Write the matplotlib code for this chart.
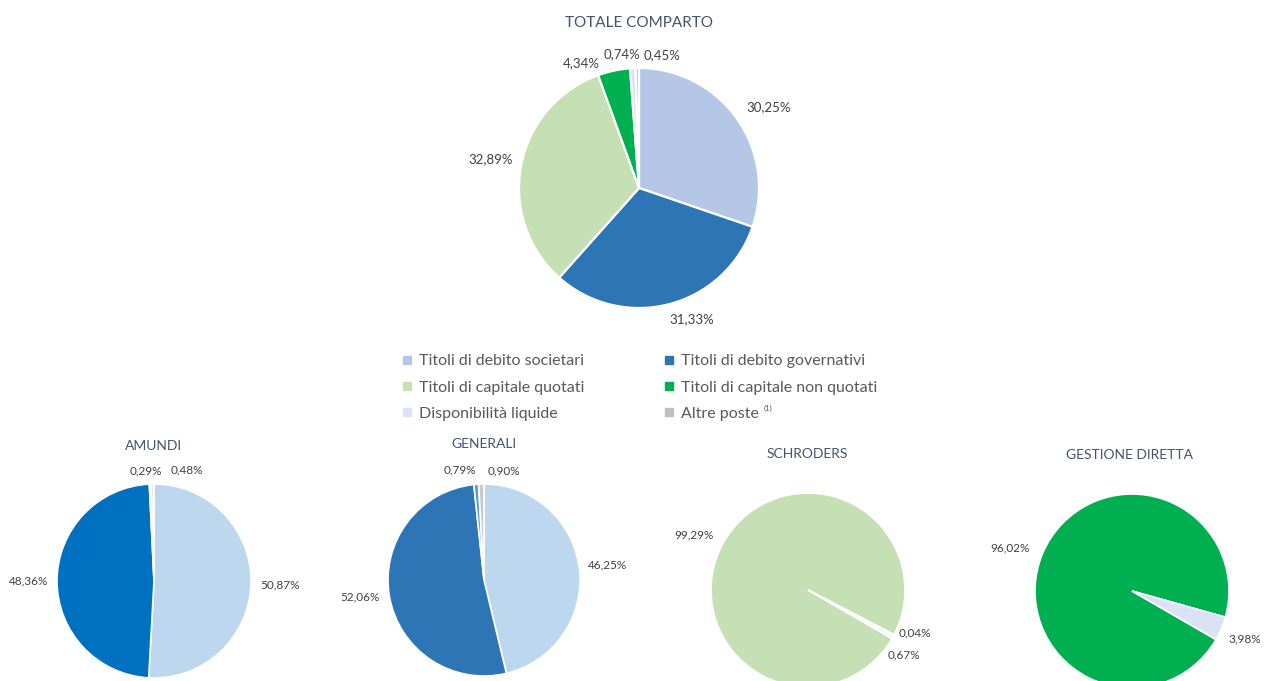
import matplotlib
matplotlib.use("Agg")
import matplotlib.pyplot as plt
from matplotlib.lines import Line2D
import numpy as np

# ---------------- data ----------------
categories = ["Titoli di debito societari", "Titoli di debito governativi",
              "Titoli di capitale quotati", "Titoli di capitale non quotati",
              "Disponibilità liquide", "Altre poste"]
footnote_mark = "(1)"
totale = [30.25, 31.33, 32.89, 4.34, 0.74, 0.45]
amundi = [50.87, 48.36, 0.29, 0.48]
generali = [46.25, 52.06, 0.79, 0.90]
schroders = [99.29, 0.04, 0.67]
gestione = [96.02, 3.98]
titles = ["TOTALE COMPARTO", "AMUNDI", "GENERALI", "SCHRODERS", "GESTIONE DIRETTA"]

# ---------------- style ----------------
W, H = 1264, 681
plt.rcParams['font.family'] = ['Lato', 'DejaVu Sans']
legend_colors = ["#B4C7E7", "#2E75B6", "#C5E0B4", "#00B050", "#DAE3F3", "#BFBFBF"]
TITLE_C = "#44546A"
LABEL_C = "#404040"

fig = plt.figure(figsize=(W / 100, H / 100), dpi=100)
fig.patch.set_facecolor("white")


def fmt(v):
    return f"{v:.2f}%".replace(".", ",")


def draw_pie(values, colors, cx, cy, R, start, offs, dists, lw, fs):
    ax = fig.add_axes([(cx - R) / W, 1 - (cy + R) / H, 2 * R / W, 2 * R / H])
    wedges, _ = ax.pie(values, colors=colors, startangle=start, counterclock=False,
                       radius=1, wedgeprops=dict(edgecolor="white", linewidth=lw))
    ax.set_xlim(-1, 1)
    ax.set_ylim(-1, 1)
    ax.set_aspect("equal")
    ax.axis("off")
    for w, v, o, d in zip(wedges, values, offs, dists):
        mid = np.deg2rad((w.theta1 + w.theta2) / 2 + o)
        ax.text(d * np.cos(mid), d * np.sin(mid), fmt(v), ha="center", va="center",
                fontsize=fs, color=LABEL_C, clip_on=False)
    return ax


# Totale comparto
draw_pie(totale, legend_colors, 639, 188, 120, 90,
         [-3.5, 7.3, 0, 12.8, 4.3, -10.8], [1.27, 1.18, 1.26, 1.15, 1.125, 1.12], 1.6, 9.5)
fig.text(639 / W, 1 - 23 / H, titles[0], ha="center", va="center", fontsize=11, color=TITLE_C)

# Amundi
draw_pie(amundi, ["#BDD7EE", "#0070C0", "#A9D18E", "#E2EAF6"], 154, 581, 97, 90,
         [0, 0, 1.8, -17.5], [1.30, 1.29, 1.14, 1.20], 1.2, 8.5)
fig.text(154 / W, 1 - 446 / H, titles[1], ha="center", va="center", fontsize=10, color=TITLE_C)

# Generali
draw_pie(generali, ["#BDD7EE", "#2E75B6", "#5B9BD5", "#C9C9C9"], 484, 580, 96, 90,
         [0, -2, 7.7, -12], [1.30, 1.30, 1.17, 1.16], 1.2, 8.5)
fig.text(484 / W, 1 - 444 / H, titles[2], ha="center", va="center", fontsize=10, color=TITLE_C)

# Schroders
draw_pie(schroders, ["#C5E0B4", "#BFBFBF", "#F4F7FB"], 808, 590, 97, -30,
         [2.9, 5.6, -5.2], [1.31, 1.19, 1.19], 1.2, 8.5)
fig.text(807 / W, 1 - 454 / H, titles[3], ha="center", va="center", fontsize=10, color=TITLE_C)

# Gestione diretta
draw_pie(gestione, ["#00B050", "#DAE3F3"], 1132, 591, 97, -30,
         [3.4, 0], [1.33, 1.26], 1.2, 8.5)
fig.text(1130 / W, 1 - 455 / H, titles[4], ha="center", va="center", fontsize=10, color=TITLE_C)

# Legend (row-wise order through column-wise fill)
order = [0, 2, 4, 1, 3, 5]
handles = [Line2D([], [], marker="s", linestyle="", markersize=6,
                  markerfacecolor=legend_colors[i], markeredgecolor=legend_colors[i]) for i in order]
labels = [categories[i] for i in order]
leg = fig.legend(handles, labels, ncol=2, loc="upper left",
                 bbox_to_anchor=(402 / W, 1 - 354 / H), frameon=False, fontsize=11.5,
                 handlelength=0.6, handletextpad=0.45, columnspacing=5.0, labelspacing=0.76,
                 borderpad=0, borderaxespad=0)
for t in leg.get_texts():
    t.set_color("#595959")

# footnote mark as superscript after "Altre poste"
fig.canvas.draw()
bb = leg.get_texts()[-1].get_window_extent()
fig.text((bb.x1 + 5) / W, (bb.y0 + 0.62 * bb.height) / H, footnote_mark,
         fontsize=5.5, color="#595959", ha="left", va="bottom")

fig.savefig("out.png", dpi=100)
